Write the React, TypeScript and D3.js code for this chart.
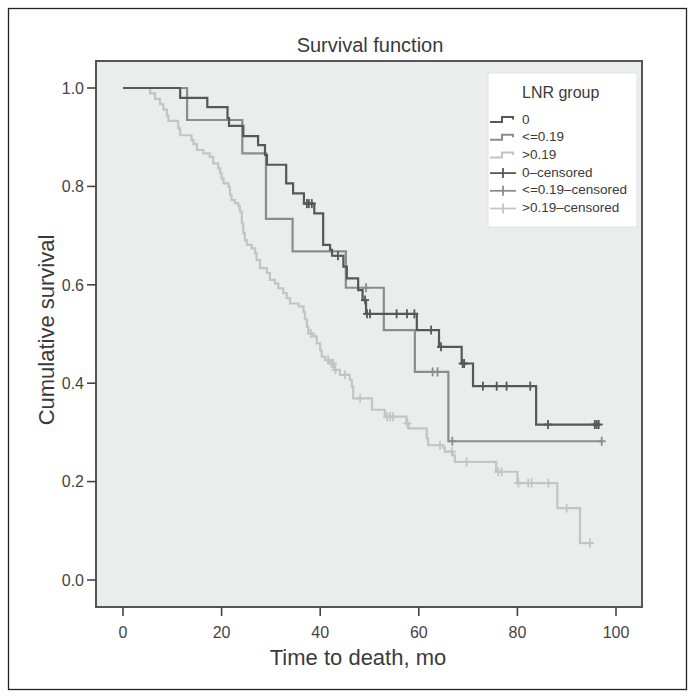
import React from "react";
import * as d3 from "d3";

// ---- data ----
const groups = ["0", "<=0.19", ">0.19"];
const legendLabels = ["0", "<=0.19", ">0.19", "0\u2013censored", "<=0.19\u2013censored", ">0.19\u2013censored"];
const xTicks = [0, 20, 40, 60, 80, 100];
const yTicks = [0, 0.2, 0.4, 0.6, 0.8, 1.0];

// [time, survival after event]
const group0Events: [number, number][] = [
  [11.6, 0.98], [17.1, 0.961], [21.2, 0.939], [21.5, 0.923], [24.4, 0.902], [27.4, 0.884],
  [28.8, 0.864], [29.2, 0.844], [33.1, 0.806], [34.5, 0.786], [36.7, 0.765], [38.8, 0.745],
  [40.6, 0.681], [42.0, 0.671], [42.4, 0.659], [44.7, 0.637], [45.4, 0.613], [47.7, 0.589],
  [48.6, 0.569], [49.3, 0.541], [59.6, 0.508], [64.1, 0.474], [68.7, 0.44], [71.0, 0.394],
  [83.8, 0.316],
];
const group0Censored = [37.3, 37.7, 38.3, 43.6, 49.1, 49.5, 50.1, 55.5, 57.6, 59.1, 62.5, 64.5,
  68.9, 69.2, 73.0, 75.8, 77.8, 82.6, 86.2, 95.7, 96.1, 96.5];

const group1Events: [number, number][] = [
  [13.0, 0.935], [24.2, 0.867], [29.0, 0.734], [34.4, 0.668], [45.2, 0.594], [52.9, 0.508],
  [59.2, 0.423], [66.0, 0.282],
];
const group1Censored = [49.3, 62.8, 63.8, 66.8, 97.1];

const group2Events: [number, number][] = [
  [5.5, 0.989], [6.5, 0.978], [7.5, 0.967], [8.2, 0.956], [8.9, 0.944], [9.2, 0.933],
  [11.2, 0.918], [11.6, 0.904], [13.9, 0.894], [14.3, 0.886], [15.0, 0.874], [16.3, 0.867],
  [17.6, 0.86], [18.3, 0.847], [19.3, 0.837], [19.7, 0.827], [20.0, 0.816], [20.4, 0.806],
  [21.4, 0.799], [21.7, 0.783], [22.0, 0.772], [22.7, 0.766], [23.4, 0.76], [23.7, 0.749],
  [24.1, 0.725], [24.4, 0.705], [24.7, 0.691], [25.1, 0.681], [26.1, 0.674], [26.8, 0.664],
  [27.1, 0.65], [27.8, 0.634], [29.2, 0.624], [29.8, 0.61], [30.8, 0.603], [31.5, 0.593],
  [32.5, 0.583], [33.2, 0.573], [33.9, 0.562], [35.6, 0.556], [36.6, 0.545], [36.9, 0.53],
  [37.3, 0.515], [37.6, 0.501], [38.6, 0.495], [39.3, 0.481], [40.0, 0.467], [40.3, 0.454],
  [41.0, 0.447], [42.0, 0.44], [42.9, 0.427], [44.0, 0.417], [46.0, 0.407], [46.4, 0.393],
  [46.7, 0.369], [50.5, 0.346], [53.1, 0.332], [57.5, 0.318], [57.9, 0.308], [61.6, 0.288],
  [61.9, 0.274], [65.0, 0.269], [65.3, 0.261], [66.9, 0.254], [67.3, 0.24], [75.7, 0.22],
  [80.0, 0.197], [88.1, 0.146], [92.7, 0.075],
];
const group2Censored = [38.1, 41.6, 42.3, 42.6, 43.1, 45.0, 48.1, 53.6, 54.2, 54.8, 57.7, 64.3,
  66.7, 69.7, 76.1, 76.8, 80.2, 82.2, 82.9, 86.3, 90.0, 94.7];

const colors = ["#575757", "#8c8c8c", "#c4c4c4"];
const FONT = "'Liberation Sans', Arial, Helvetica, sans-serif";

const W = 694, H = 697;
const frame = { left: 96, right: 642, top: 61, bottom: 607 };

export default function App() {
  const x = d3.scaleLinear().domain([0, 100]).range([123, 616]);
  const y = d3.scaleLinear().domain([0, 1]).range([580, 88]);

  const series = [
    { events: group0Events, censored: group0Censored },
    { events: group1Events, censored: group1Censored },
    { events: group2Events, censored: group2Censored },
  ];

  const stepValue = (events: [number, number][], t: number) => {
    let v = 1;
    for (const [et, s] of events) if (et <= t) v = s;
    return v;
  };

  const line = d3
    .line<[number, number]>()
    .x((d) => x(d[0]))
    .y((d) => y(d[1]))
    .curve(d3.curveStepAfter);

  const drawOrder = [2, 1, 0];

  return (
    <svg
      width={W}
      height={H}
      style={{ position: "absolute", left: 0, top: 0, background: "#fff" }}
      fontFamily={FONT}
    >
      <rect x={8.5} y={8.5} width={678} height={681} fill="#fff" stroke="#222" strokeWidth={1.3} />
      {/* title */}
      <text x={370} y={52} textAnchor="middle" fontSize={20} fill="#3a3a3a">
        Survival function
      </text>
      {/* plot area */}
      <rect
        x={frame.left}
        y={frame.top}
        width={frame.right - frame.left}
        height={frame.bottom - frame.top}
        fill="#ebecec"
        stroke="#555"
        strokeWidth={2}
      />
      {/* y axis ticks */}
      {yTicks.map((t) => (
        <g key={"y" + t}>
          <line x1={87} x2={frame.left} y1={y(t)} y2={y(t)} stroke="#444" strokeWidth={1.6} />
          <text x={84} y={y(t) + 5.8} textAnchor="end" fontSize={16} fill="#444">
            {d3.format(".1f")(t)}
          </text>
        </g>
      ))}
      {/* x axis ticks */}
      {xTicks.map((t) => (
        <g key={"x" + t}>
          <line x1={x(t)} x2={x(t)} y1={frame.bottom} y2={frame.bottom + 9} stroke="#444" strokeWidth={1.6} />
          <text x={x(t)} y={frame.bottom + 30.5} textAnchor="middle" fontSize={16} fill="#444">
            {t}
          </text>
        </g>
      ))}
      <text x={358} y={frame.bottom + 58} textAnchor="middle" fontSize={22} fill="#3a3a3a">
        Time to death, mo
      </text>
      <text
        transform={`translate(54, 330) rotate(-90)`}
        textAnchor="middle"
        fontSize={22}
        fill="#3a3a3a"
      >
        Cumulative survival
      </text>

      {/* curves */}
      {drawOrder.map((gi) => {
        const s = series[gi];
        const lastT = Math.max(s.events[s.events.length - 1][0], ...s.censored);
        const pts: [number, number][] = [[0, 1], ...s.events, [lastT, stepValue(s.events, lastT)]];
        return (
          <path key={"l" + gi} d={line(pts) || ""} fill="none" stroke={colors[gi]} strokeWidth={2.2} />
        );
      })}
      {drawOrder.map((gi) => {
        const s = series[gi];
        return (
          <g key={"c" + gi} stroke={colors[gi]} strokeWidth={1.8}>
            {s.censored.map((t, i) => {
              const cx = x(t);
              const cy = y(stepValue(s.events, t));
              return (
                <g key={i}>
                  <line x1={cx - 4} x2={cx + 4} y1={cy} y2={cy} />
                  <line x1={cx} x2={cx} y1={cy - 4.5} y2={cy + 4.5} />
                </g>
              );
            })}
          </g>
        );
      })}

      {/* legend */}
      <g>
        <rect x={488} y={73} width={149} height={154} fill="#fff" stroke="#e2e2e2" strokeWidth={1} />
        <text x={522} y={98} fontSize={16} fill="#3a3a3a">
          LNR group
        </text>
        {legendLabels.map((lab, i) => {
          const cy = 118.5 + i * 17.7;
          const gi = i % 3;
          const censored = i >= 3;
          return (
            <g key={lab}>
              {censored ? (
                <g stroke={colors[gi]} strokeWidth={1.8}>
                  <line x1={490} x2={516} y1={cy + 1.5} y2={cy + 1.5} />
                  <line x1={503} x2={503} y1={cy - 3.5} y2={cy + 6.5} />
                </g>
              ) : (
                <path
                  d={`M490,${cy + 3.5}H502V${cy - 1.5}H513V${cy + 1}`}
                  fill="none"
                  stroke={colors[gi]}
                  strokeWidth={2}
                />
              )}
              <text x={522} y={cy + 5} fontSize={13.5} fill="#3a3a3a">
                {lab}
              </text>
            </g>
          );
        })}
      </g>
    </svg>
  );
}
